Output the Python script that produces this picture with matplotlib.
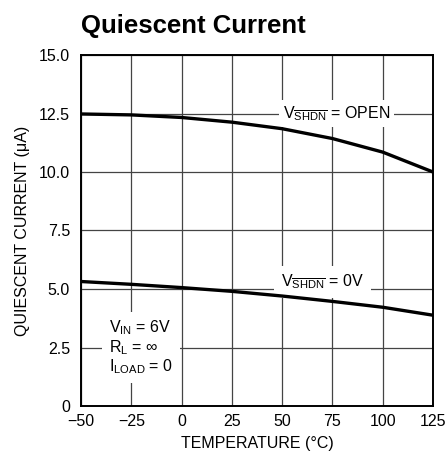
import matplotlib
matplotlib.use("Agg")
import matplotlib.pyplot as plt
from matplotlib import font_manager

names = {f.name for f in font_manager.fontManager.ttflist}
narrow = "Liberation Sans Narrow" if "Liberation Sans Narrow" in names else "Liberation Sans"
plt.rcParams['font.family'] = [narrow, 'DejaVu Sans']
plt.rcParams['mathtext.fontset'] = 'custom'
plt.rcParams['mathtext.rm'] = narrow
plt.rcParams['mathtext.it'] = narrow
plt.rcParams['mathtext.bf'] = narrow

temps = [-50, -25, 0, 25, 50, 75, 100, 125]
i_open = [12.48, 12.44, 12.33, 12.13, 11.85, 11.43, 10.85, 10.0]
i_0v = [5.32, 5.20, 5.06, 4.90, 4.70, 4.47, 4.22, 3.88]
xticks = [-50, -25, 0, 25, 50, 75, 100, 125]
xticklabels = ['\u221250', '\u221225', '0', '25', '50', '75', '100', '125']
yticks = [0, 2.5, 5.0, 7.5, 10.0, 12.5, 15.0]
yticklabels = ['0', '2.5', '5.0', '7.5', '10.0', '12.5', '15.0']

FS = 11.5

fig = plt.figure(figsize=(4.48, 4.63), dpi=100)
ax = fig.add_axes([81/448, 57/463, 352/448, 351/463])

ax.plot(temps, i_open, color='black', lw=2.4, zorder=3, solid_capstyle='butt')
ax.plot(temps, i_0v, color='black', lw=2.4, zorder=3, solid_capstyle='butt')

ax.set_xlim(-50, 125)
ax.set_ylim(0, 15)
ax.set_xticks(xticks)
ax.set_xticklabels(xticklabels)
ax.set_yticks(yticks)
ax.set_yticklabels(yticklabels)
ax.tick_params(length=0, labelsize=FS, pad=6)
ax.tick_params(axis='y', pad=8)
ax.grid(True, color='#444444', lw=0.9, zorder=1)
for s in ax.spines.values():
    s.set_linewidth(1.4)
    s.set_zorder(4)

ax.set_xlabel('TEMPERATURE (\u00b0C)', fontsize=FS, labelpad=5)
ax.set_ylabel('QUIESCENT CURRENT (\u03bcA)', fontsize=FS, labelpad=6)

ax.text(77, 12.5, r'$\mathregular{V_{\overline{SHDN}}}$ = OPEN', fontsize=FS,
        ha='center', va='center', bbox=dict(facecolor='white', edgecolor='none', pad=3), zorder=2)
ax.text(70, 5.3, r'$\mathregular{V_{\overline{SHDN}}}$ = 0V', fontsize=FS,
        ha='center', va='center', bbox=dict(facecolor='white', edgecolor='none', pad=5), zorder=2)
ax.text(-36, 2.5, r'$\mathregular{V_{IN}}$ = 6V' + '\n' + r'$\mathregular{R_L}$ = $\infty$' + '\n' + r'$\mathregular{I_{LOAD}}$ = 0',
        fontsize=FS, ha='left', va='center', linespacing=1.05,
        bbox=dict(facecolor='white', edgecolor='none', pad=5), zorder=2)

fig.text(81/448, 1 - 33/463, 'Quiescent Current', fontsize=18.5, fontweight='bold',
         ha='left', va='baseline')

fig.savefig('out.png', dpi=100)
